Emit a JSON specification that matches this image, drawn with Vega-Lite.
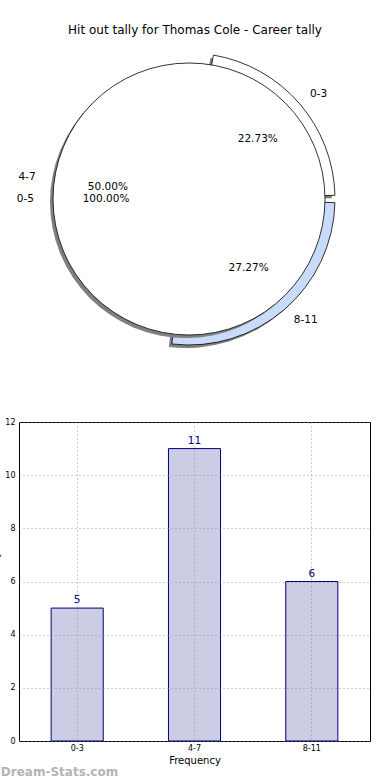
{
  "$schema": "https://vega.github.io/schema/vega-lite/v6.json",
  "padding": {"left": -10, "top": 24, "right": 0, "bottom": 0},
  "datasets": {
    "pie": [
      {"range": "0-3", "count": 5, "pct": "22.73%"},
      {"range": "4-7", "count": 11, "pct": "50.00%"},
      {"range": "8-11", "count": 6, "pct": "27.27%"}
    ],
    "pie2": [
      {"range": "0-5", "count": 22, "pct": "100.00%"}
    ],
    "bars": [
      {"range": "0-3", "count": 5},
      {"range": "4-7", "count": 11},
      {"range": "8-11", "count": 6}
    ]
  },
  "bounds": "flush",
  "spacing": 73,
  "vconcat": [
    {
      "width": 340,
      "height": 300,
      "view": {"stroke": null},
      "title": {"text": "Hit out tally for Thomas Cole - Career tally", "fontSize": 12, "fontWeight": "normal", "offset": 12, "anchor": "middle", "frame": "group", "dx": 6},
      "data": {"name": "pie"},
      "encoding": {
        "theta": {"field": "count", "type": "quantitative", "stack": true, "scale": {"domain": [0, 22], "range": [1.5708, -4.7124]}},
        "order": {"field": "range", "type": "ordinal"}
      },
      "layer": [
        {
          "mark": {"type": "arc", "radius": 146, "padAngle": 0.05, "xOffset": -3, "yOffset": 3, "fill": "#808080"},
          "encoding": {"opacity": {"condition": {"test": "datum.range == '4-7'", "value": 0}, "value": 1}}
        },
        {
          "mark": {"type": "arc", "radius": 146, "padAngle": 0.05, "stroke": "black", "strokeWidth": 0.8},
          "encoding": {
            "color": {"field": "range", "type": "nominal", "scale": {"domain": ["0-3", "4-7", "8-11"], "range": ["white", "white", "#c8dcfa"]}, "legend": null},
            "opacity": {"condition": {"test": "datum.range == '4-7'", "value": 0}, "value": 1}
          }
        },
        {
          "data": {"name": "pie2"},
          "mark": {"type": "arc", "radius": 136, "xOffset": -3, "yOffset": 3, "fill": "#808080"}
        },
        {
          "data": {"name": "pie2"},
          "mark": {"type": "arc", "radius": 136, "fill": "white", "stroke": "black", "strokeWidth": 0.8}
        },
        {
          "mark": {"type": "text", "radius": 91, "fontSize": 10.5, "color": "black"},
          "encoding": {
            "text": {"field": "pct"},
            "opacity": {"condition": {"test": "datum.range == '4-7'", "value": 0}, "value": 1}
          }
        },
        {
          "mark": {"type": "text", "radius": 82, "fontSize": 10.5, "color": "black"},
          "encoding": {
            "text": {"field": "pct"},
            "opacity": {"condition": {"test": "datum.range == '4-7'", "value": 1}, "value": 0}
          }
        },
        {
          "mark": {"type": "text", "radius": 160, "fontSize": 10.5, "align": "left", "color": "black"},
          "encoding": {
            "text": {"field": "range"},
            "opacity": {"condition": {"test": "datum.range == '4-7'", "value": 0}, "value": 1}
          }
        },
        {
          "mark": {"type": "text", "radius": 155, "fontSize": 10.5, "align": "right", "color": "black"},
          "encoding": {
            "text": {"field": "range"},
            "opacity": {"condition": {"test": "datum.range == '4-7'", "value": 1}, "value": 0}
          }
        },
        {
          "data": {"name": "pie2"},
          "mark": {"type": "text", "radius": 83, "fontSize": 10.5, "color": "black"},
          "encoding": {"text": {"field": "pct"}}
        },
        {
          "data": {"name": "pie2"},
          "mark": {"type": "text", "radius": 155, "fontSize": 10.5, "align": "right", "color": "black"},
          "encoding": {"text": {"field": "range"}}
        }
      ]
    },
    {
      "width": 351,
      "height": 319,
      "view": {"stroke": "black", "strokeWidth": 1},
      "data": {"name": "bars"},
      "title": {"text": "Dream-Stats.com", "orient": "bottom", "anchor": "start", "fontSize": 12, "fontWeight": "bold", "color": "#b4b4b4", "offset": 2, "dx": 10},
      "encoding": {
        "x": {"field": "range", "type": "nominal", "sort": null,
          "scale": {"paddingInner": 0.556, "paddingOuter": 0.274},
          "axis": {"title": "Frequency", "labelAngle": 0, "labelFontSize": 8, "labelColor": "black", "titleFontSize": 10, "titleFontWeight": "normal", "titleColor": "black", "ticks": false, "labelPadding": 3, "titlePadding": 3, "grid": true, "gridDash": [1, 3], "gridColor": "#888", "gridOpacity": 0.8, "domain": false, "bandPosition": 0.5, "zindex": 1}},
        "y": {"field": "count", "type": "quantitative",
          "scale": {"domain": [0, 12], "nice": false},
          "axis": {"title": "Hit Out Tally", "values": [0, 2, 4, 6, 8, 10, 12], "labelFontSize": 8, "labelColor": "black", "ticks": false, "labelPadding": 4, "titleFontSize": 10, "titleFontWeight": "normal", "titleColor": "black", "titlePadding": 4, "grid": true, "gridDash": [1, 3], "gridColor": "#888", "gridOpacity": 0.8, "domain": false, "zindex": 1}}
      },
      "layer": [
        {"mark": {"type": "bar", "fill": "#cccce4", "stroke": "#000080", "strokeWidth": 1}},
        {"mark": {"type": "text", "dy": -8, "fontSize": 10.5, "color": "#000080"}, "encoding": {"text": {"field": "count"}}}
      ]
    }
  ],
  "config": {"font": "DejaVu Sans", "view": {"stroke": null}}
}
